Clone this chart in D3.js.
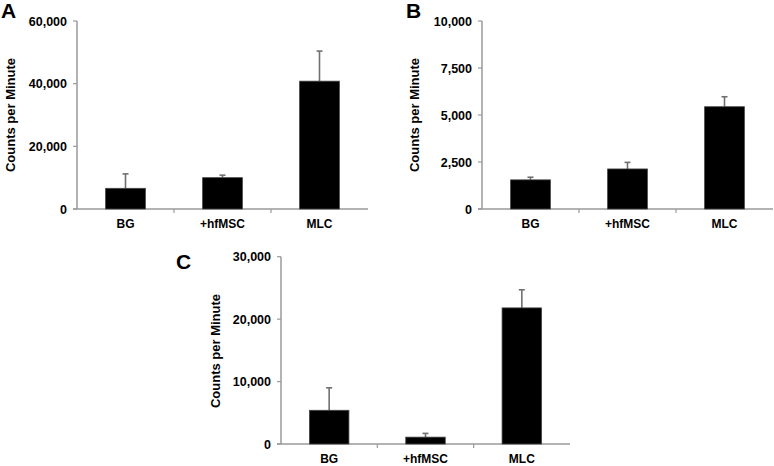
<!DOCTYPE html>
<html><head><meta charset="utf-8">
<script src="https://cdn.jsdelivr.net/npm/d3@7"></script>
<style>
body{margin:0;background:#fff;}
svg{display:block;font-family:"Liberation Sans",Arial,sans-serif;}
</style></head>
<body><svg id="c" width="774" height="466"></svg>
<script>
const categories = ["BG", "+hfMSC", "MLC"];
const valuesA = [6600, 10000, 40800];
const errorsA = [4600, 800, 9600];
const ticksA = [0, 20000, 40000, 60000];
const valuesB = [1550, 2130, 5440];
const errorsB = [140, 350, 530];
const ticksB = [0, 2500, 5000, 7500, 10000];
const valuesC = [5400, 1100, 21800];
const errorsC = [3600, 600, 2900];
const ticksC = [0, 10000, 20000, 30000];
const yTitle = "Counts per Minute";

const svg = d3.select("#c");
const fmt = d3.format(",");

function panel(letter, vals, errs, ticks, box) {
  const {x0, x1, y0, y1, lx, ly, tx, ty} = box;
  const g = svg.append("g");
  const x = d3.scaleBand().domain(categories).range([x0, x1]);
  const y = d3.scaleLinear().domain([0, ticks[ticks.length-1]]).range([y0, y1]);
  const axisColor = "#9a9a9a";
  g.append("line").attr("x1", x0).attr("x2", x0).attr("y1", y(ticks[ticks.length-1])).attr("y2", y(0))
    .attr("stroke", axisColor).attr("stroke-width", 1.5);
  g.selectAll(".yt").data(ticks).join("line")
    .attr("x1", x0 - 4).attr("x2", x0).attr("y1", d => y(d)).attr("y2", d => y(d))
    .attr("stroke", axisColor).attr("stroke-width", 1.2);
  g.selectAll(".yl").data(ticks).join("text")
    .attr("x", x0 - 10).attr("y", d => y(d)).attr("dy", "0.36em")
    .attr("text-anchor", "end").attr("font-size", 12.5).attr("font-weight", "bold")
    .text(d => fmt(d));
  g.append("line").attr("x1", x0 - 4).attr("x2", x1).attr("y1", y(0)).attr("y2", y(0))
    .attr("stroke", axisColor).attr("stroke-width", 1.5);
  g.selectAll(".xt").data(categories.slice(1)).join("line")
    .attr("x1", d => x(d)).attr("x2", d => x(d)).attr("y1", y(0)).attr("y2", y(0) + 4)
    .attr("stroke", axisColor).attr("stroke-width", 1.2);
  g.selectAll(".xl").data(categories).join("text")
    .attr("x", d => x(d) + x.bandwidth()/2).attr("y", y(0) + 19)
    .attr("text-anchor", "middle").attr("font-size", 12).attr("font-weight", "bold")
    .text(d => d);
  const bw = x.bandwidth() * 0.41;
  const data = categories.map((c, i) => ({c, v: vals[i], e: errs[i]}));
  g.selectAll(".eb").data(data).join("line")
    .attr("x1", d => x(d.c) + x.bandwidth()/2).attr("x2", d => x(d.c) + x.bandwidth()/2)
    .attr("y1", d => y(d.v)).attr("y2", d => y(d.v + d.e))
    .attr("stroke", "#707070").attr("stroke-width", 1.6);
  g.selectAll(".ec").data(data).join("line")
    .attr("x1", d => x(d.c) + x.bandwidth()/2 - 3).attr("x2", d => x(d.c) + x.bandwidth()/2 + 3)
    .attr("y1", d => y(d.v + d.e)).attr("y2", d => y(d.v + d.e))
    .attr("stroke", "#707070").attr("stroke-width", 1.6);
  g.selectAll(".bar").data(data).join("rect")
    .attr("x", d => x(d.c) + x.bandwidth()/2 - bw/2).attr("width", bw)
    .attr("y", d => y(d.v)).attr("height", d => y(0) - y(d.v))
    .attr("fill", "#000").attr("stroke", "#444").attr("stroke-width", 0.8);
  g.append("text").attr("transform", `translate(${tx},${ty}) rotate(-90)`)
    .attr("text-anchor", "middle").attr("font-size", 13).attr("font-weight", "bold")
    .text(yTitle);
  g.append("text").attr("x", lx).attr("y", ly).attr("font-size", 21).attr("font-weight", "bold").text(letter);
}

panel("A", valuesA, errorsA, ticksA, {x0: 77, x1: 368, y0: 209, y1: 21, lx: 1, ly: 18, tx: 15, ty: 115});
panel("B", valuesB, errorsB, ticksB, {x0: 482, x1: 773, y0: 209, y1: 21, lx: 406, ly: 18, tx: 419, ty: 115});
panel("C", valuesC, errorsC, ticksC, {x0: 281, x1: 570, y0: 444, y1: 256.7, lx: 176, ly: 269, tx: 220, ty: 351});
</script></body></html>
